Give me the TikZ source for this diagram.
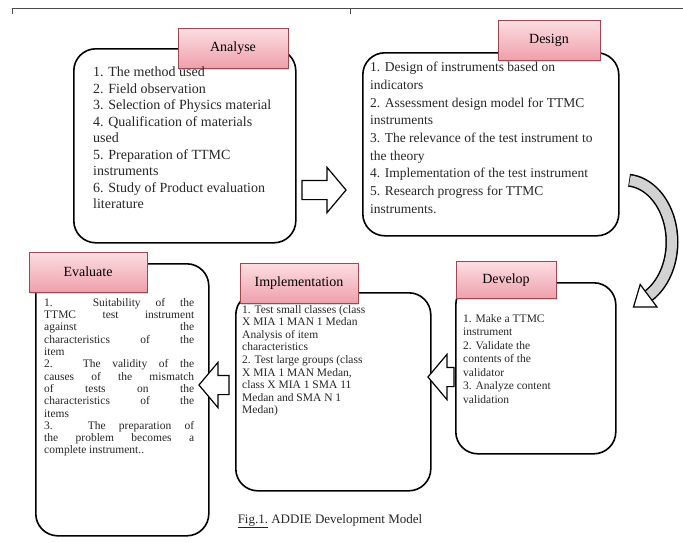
\documentclass[tikz,border=0pt]{standalone}
\usepackage{fontspec}
\setmainfont{Liberation Serif}
\usetikzlibrary{shapes.arrows,shadows}
\definecolor{tagtop}{RGB}{252,222,226}
\definecolor{tagbot}{RGB}{238,160,172}
\definecolor{tagline}{RGB}{160,70,80}

\begin{document}
\begin{tikzpicture}[x=1pt,y=-1pt,
  phase/.style={draw, line width=1.6pt, rounded corners=22pt, anchor=north west, inner sep=0pt},
  tag/.style={draw=tagline, line width=0.5pt, top color=tagtop, bottom color=tagbot,
    drop shadow={opacity=0.3,shadow xshift=1pt,shadow yshift=-1.5pt},
    font=\fontsize{14}{16}\selectfont, inner sep=0pt},
  items/.style={anchor=north west, inner sep=0pt, align=left, text=black!85},
  blockarrow/.style={single arrow, draw, line width=1.2pt, fill=white,
    single arrow head extend=13pt, single arrow tip angle=100, inner sep=0pt}
]
\useasboundingbox (0,0) rectangle (683,542);

% frame line at the top
\draw[line width=1pt, black!70] (12,14) -- (12,8) -- (683,8);
\draw[line width=1pt, black!70] (350,8) -- (350,14);

% phase boxes
\node[phase, minimum width=222pt, minimum height=194pt] (analyse) at (73,48) {};
\node[phase, minimum width=256pt, minimum height=183pt] (design) at (362,52) {};
\node[phase, minimum width=160pt, minimum height=171pt] (develop) at (455,282) {};
\node[phase, minimum width=195pt, minimum height=198pt] (implement) at (235,292) {};
\node[phase, minimum width=173pt, minimum height=272pt] (evaluate) at (35,263) {};

% titles
\node[tag, minimum width=110pt, minimum height=40pt] (analysetag) at (233,48) {Analyse};
\node[tag, minimum width=102pt, minimum height=40pt] (designtag) at (549,40) {Design};
\node[tag, minimum width=100pt, minimum height=37pt] (developtag) at (506,280) {Develop};
\node[tag, minimum width=118pt, minimum height=40pt] (implementtag) at (299,283) {Implementation};
\node[tag, minimum width=118pt, minimum height=40pt] (evaluatetag) at (88,272) {Evaluate};

% contents
\node[items, font=\fontsize{14}{16.5}\selectfont] (analysetext) at (93,67) {%
1. The method used\\
2. Field observation\\
3. Selection of Physics material\\
4. Qualification of materials\\
used\\
5. Preparation of TTMC\\
instruments\\
6. Study of Product evaluation\\
literature};
\node[items, font=\fontsize{13.5}{17.7}\selectfont] (designtext) at (370,62) {%
1. Design of instruments based on\\
indicators\\
2. Assessment design model for TTMC\\
instruments\\
3. The relevance of the test instrument to\\
the theory\\
4. Implementation of the test instrument\\
5. Research progress for TTMC\\
instruments.};
\node[items, font=\fontsize{11.5}{13.5}\selectfont] (developtext) at (463,314) {%
1. Make a TTMC\\
instrument\\
2. Validate the\\
contents of the\\
validator\\
3. Analyze content\\
validation};
\node[items, font=\fontsize{11.5}{12.6}\selectfont] (implementtext) at (242,305) {%
1. Test small classes (class\\
X MIA 1 MAN 1 Medan\\
Analysis of item\\
characteristics\\
2. Test large groups (class\\
X MIA 1 MAN Medan,\\
class X MIA 1 SMA 11\\
Medan and SMA N 1\\
Medan)};
\node[anchor=north west, inner sep=0pt, text width=150pt, align=justify, text=black!85,
  font=\fontsize{11.5}{12.3}\selectfont] (evaluatetext) at (44,298) {%
1. Suitability of the\linebreak TTMC test instrument\linebreak against the\linebreak
characteristics of the\linebreak item\par
2. The validity of the\linebreak causes of the mismatch\linebreak of tests on the\linebreak
characteristics of the\linebreak items\par
3. The preparation of\linebreak the problem becomes a\linebreak complete instrument..};

% arrows between the phases
\node[blockarrow, minimum height=44pt] (arrowad) at (320,190) {\rule{0pt}{18pt}};
\node[blockarrow, minimum height=26pt, shape border rotate=180] (arrowdi) at (445,377) {\rule{0pt}{18pt}};
\node[blockarrow, minimum height=30pt, shape border rotate=180] (arrowie) at (218,385) {\rule{0pt}{18pt}};

% curved arrow from design down to develop
\draw[line width=13pt] plot[domain=-85:60, smooth, samples=40, variable=\t]
  ({625+47*cos(\t)},{242+62*sin(\t)});
\draw[line width=10pt, gray!35] plot[domain=-84:60, smooth, samples=40, variable=\t]
  ({625+47*cos(\t)},{242+62*sin(\t)});
\draw[line width=1.2pt, fill=white] (657,307) -- (633.5,307) -- (640.2,284.5) -- cycle;

\node[font=\fontsize{13}{15}\selectfont, text=black!85] (caption) at (330,521)
  {\underline{Fig.1.} ADDIE Development Model};
\end{tikzpicture}
\end{document}
